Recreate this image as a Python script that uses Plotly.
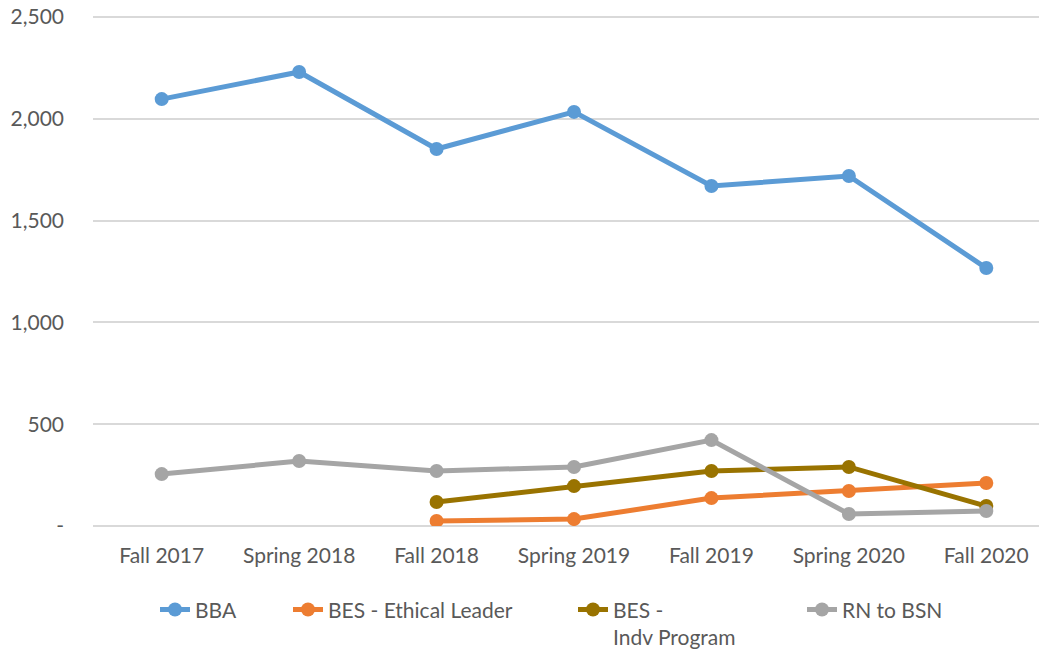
import plotly.graph_objects as go

terms = ["Fall 2017", "Spring 2018", "Fall 2018", "Spring 2019", "Fall 2019", "Spring 2020", "Fall 2020"]
bba = [2097, 2230, 1852, 2034, 1670, 1719, 1267]
bes_ethical = [None, None, 25, 34, 137, 172, 211]
bes_indv = [None, None, 118, 196, 270, 290, 98]
rn_bsn = [255, 319, 270, 290, 422, 59, 74]

y_ticks = [0, 500, 1000, 1500, 2000, 2500]
y_tick_text = ["-", "500", "1,000", "1,500", "2,000", "2,500"]

series = [
    ("BBA", bba, "#5B9BD5", "legend"),
    ("BES - Ethical Leader", bes_ethical, "#ED7D31", "legend2"),
    ("BES -<br>Indv Program", bes_indv, "#997300", "legend3"),
    ("RN to BSN", rn_bsn, "#A5A5A5", "legend4"),
]

fig = go.Figure()
for name, vals, color, lg in series:
    fig.add_trace(go.Scatter(
        x=terms, y=vals, name=name, mode="lines+markers",
        line=dict(color=color, width=5),
        marker=dict(color=color, size=14),
        connectgaps=False, legend=lg,
    ))

font = dict(family="Lato, Open Sans, sans-serif", size=21, color="#595959")
leg_common = dict(orientation="h", yanchor="top", y=-0.124, xanchor="left",
                  font=font, bgcolor="rgba(0,0,0,0)", valign="top",
                  itemwidth=30)

# page body has an 8px offset; plot area spans x 93..1055, y 17..526 on screen
fig.update_layout(
    width=1047, height=653,
    margin=dict(l=85, r=0, t=7, b=135, autoexpand=False),
    paper_bgcolor="white", plot_bgcolor="white",
    font=font,
    showlegend=True,
    legend=dict(**leg_common, x=(155 - 93) / 962),
    legend2=dict(**leg_common, x=(288 - 93) / 962),
    legend3=dict(**leg_common, x=(573 - 93) / 962),
    legend4=dict(**leg_common, x=(802 - 93) / 962),
    xaxis=dict(
        type="category", range=[-0.5, 6.5], automargin=False,
        showgrid=False, showline=False, zeroline=False,
        ticks="", ticklabelstandoff=15, tickfont=font,
    ),
    yaxis=dict(
        range=[0, 2510], tickvals=y_ticks, ticktext=y_tick_text,
        automargin=False,
        showgrid=True, gridcolor="#D9D9D9", gridwidth=1.5,
        zeroline=True, zerolinecolor="#D9D9D9", zerolinewidth=1.5,
        showline=False, ticks="", ticklabelstandoff=28, tickfont=font,
        ticklabeloverflow="allow",
    ),
)

fig.write_html("out.html")
